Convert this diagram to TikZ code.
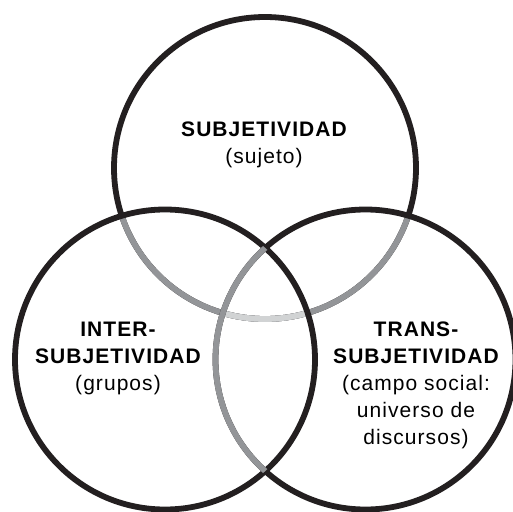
\documentclass[tikz,border=0pt]{standalone}
\usepackage{fontspec}
\setmainfont{Liberation Sans}
\newfontfamily\lblfont[LetterSpace=5]{Liberation Sans}
\definecolor{ink}{HTML}{231F20}
\definecolor{midgray}{HTML}{939598}
\definecolor{palegray}{HTML}{D1D3D4}
\begin{document}
\begin{tikzpicture}[x=1pt,y=-1pt,
  ring/.style={line width=5.8pt},
  lbl/.style={align=center, inner sep=0pt, anchor=base,
    font=\lblfont\fontsize{21}{26.8}\selectfont},
]
\useasboundingbox (0,0) rectangle (513,511);
\fill[white] (0,0) rectangle (513,511);
\coordinate (T) at (265,168);
\coordinate (L) at (165,359.5);
\coordinate (R) at (365.5,359.5);
% top circle
\draw[ring,ink] (T) circle[radius=151pt];
\begin{scope}
  \clip (L) circle[radius=150pt];
  \draw[ring,midgray] (T) circle[radius=151pt];
\end{scope}
\begin{scope}
  \clip (R) circle[radius=150pt];
  \draw[ring,midgray] (T) circle[radius=151pt];
\end{scope}
\begin{scope}
  \clip (L) circle[radius=150pt];
  \clip (R) circle[radius=150pt];
  \draw[ring,palegray] (T) circle[radius=151pt];
\end{scope}
% left circle
\draw[ring,ink] (L) circle[radius=150pt];
% right circle
\draw[ring,ink] (R) circle[radius=150pt];
\begin{scope}
  \clip (L) circle[radius=150pt];
  \draw[ring,midgray] (R) circle[radius=150pt];
\end{scope}
% labels (anchored at the baseline of the last line)
\node[lbl] (sub) at (264,163) {\bfseries SUBJETIVIDAD\\(sujeto)};
\node[lbl] (inter) at (118,390) {\bfseries INTER-\\\bfseries SUBJETIVIDAD\\(grupos)};
\node[lbl] (trans) at (416,444) {\bfseries TRANS-\\\bfseries SUBJETIVIDAD\\(campo social:\\universo de\\discursos)};
\end{tikzpicture}
\end{document}
